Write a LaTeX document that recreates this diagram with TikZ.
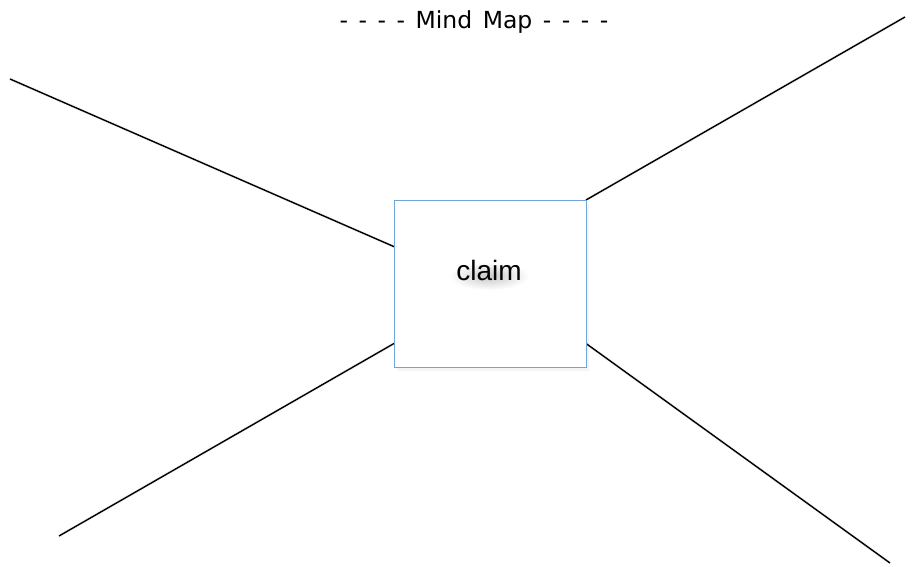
\documentclass[tikz,border=0pt]{standalone}
\usepackage{fontspec}
\setmainfont{Liberation Sans}
\newfontfamily\titlefont{DejaVu Sans}
\definecolor{boxblue}{HTML}{6FA3DC}
\begin{document}
\begin{tikzpicture}[x=1pt,y=-1pt,
  branch/.style={line width=1.4pt,black},
  branchshade/.style={line width=3pt,black,opacity=0.05,shift={(0,3)}},
  centrebox/.style={draw=boxblue,line width=0.9pt,fill=white,minimum width=192pt,minimum height=167pt,outer sep=0pt,inner sep=0pt},
  labeltext/.style={font=\fontsize{28}{32}\selectfont,inner sep=0pt}
]
\useasboundingbox (0,0) rectangle (913,567);
\fill[white] (0,0) rectangle (913,567);

% title
\node[font=\titlefont\fontsize{23.5}{28}\selectfont,inner sep=0pt] (title) at (474,22)
  {\spaceskip=10.5pt - - - - Mind Map - - - -};

% free ends of the four branches
\coordinate (nw) at (10,79);
\coordinate (ne) at (905,17);
\coordinate (sw) at (59,536);
\coordinate (se) at (890,563);

% central box outline used as the anchor for the branches
\node[centrebox,fill=none,draw=none] (claim) at (490,283.5) {};

% soft shading under the branches
\draw[branchshade] (nw) -- (claim.159.2);
\draw[branchshade] (sw) -- (claim.212.2);
\draw[branchshade] (ne) -- (claim.north east);
\draw[branchshade] (se) -- (claim.328.2);

% branches
\draw[branch] (nw) -- (claim.159.2);
\draw[branch] (sw) -- (claim.212.2);
\draw[branch] (ne) -- (claim.north east);
\draw[branch] (se) -- (claim.328.2);

% box shadow and frame
\fill[black,opacity=0.04] ([shift={(3,4)}]claim.north west) rectangle ([shift={(3,4)}]claim.south east);
\node[centrebox] (claimbox) at (claim) {};

% soft glow beneath the label
\shade[inner color=black!22,outer color=white] (489,276) ellipse [x radius=40pt,y radius=14pt];
\node[labeltext] (claimlabel) at (489,270) {claim};
\end{tikzpicture}
\end{document}
